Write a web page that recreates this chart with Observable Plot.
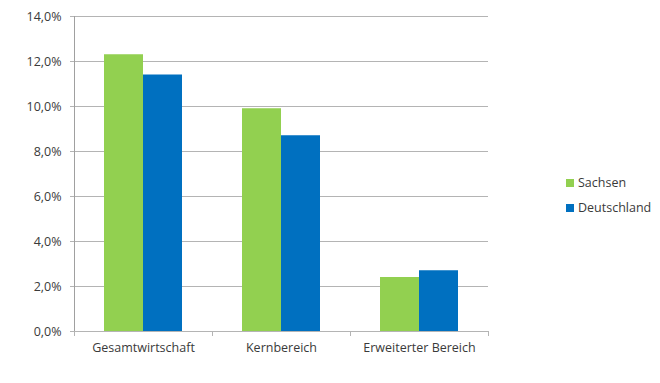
<!DOCTYPE html>
<html>
<head>
<meta charset="utf-8">
<script src="https://cdn.jsdelivr.net/npm/d3@7"></script>
<script src="https://cdn.jsdelivr.net/npm/@observablehq/plot@0.6"></script>
<style>
  html, body { margin: 0; padding: 0; background: #fff; }
  #wrap { position: relative; width: 660px; height: 383px; font-family: "Open Sans", sans-serif; }
  #legend { position: absolute; left: 566px; top: 170px; font-size: 12.5px; color: #3a3a3a; }
  #legend .item { display: flex; align-items: center; height: 25px; }
  #legend .sw { width: 8px; height: 8px; margin-right: 4px; }
</style>
</head>
<body>
<div id="wrap"><div id="legend"></div></div>
<script>
const categories = ["Gesamtwirtschaft", "Kernbereich", "Erweiterter Bereich"];
const series = ["Sachsen", "Deutschland"];
const sachsen = [12.3, 9.9, 2.4];
const deutschland = [11.4, 8.7, 2.7];
const yTicks = [0, 2, 4, 6, 8, 10, 12, 14];
const colors = ["#92D050", "#0070C0"];

const data = categories.flatMap((c, i) => [
  {cat: c, series: series[0], value: sachsen[i]},
  {cat: c, series: series[1], value: deutschland[i]}
]);
const fmt = v => v.toFixed(1).replace(".", ",") + "%";
const gridColor = "#b4b4b4";
const textColor = "#3a3a3a";

const plot = Plot.plot({
  width: 660,
  height: 383,
  marginTop: 16,
  marginBottom: 52,
  marginLeft: 74,
  marginRight: 172,
  style: {fontFamily: "Open Sans", fontSize: "12.5px", color: textColor, background: "#fff"},
  fx: {domain: categories, padding: 0, label: null, axis: null},
  x: {domain: series, paddingInner: 0, paddingOuter: 0.747, axis: null},
  y: {domain: [0, 14], axis: null},
  color: {domain: series, range: colors},
  marks: [
    Plot.ruleY(yTicks, {stroke: gridColor, strokeWidth: 1}),
    Plot.frame({anchor: "left", fx: [categories[0]], stroke: "#a0a0a0"}),
    Plot.barY(data, {fx: "cat", x: "series", y: "value", fill: "series"}),
    Plot.axisY(yTicks, {anchor: "left", tickSize: 4, tickPadding: 9, tickFormat: fmt, stroke: gridColor, fill: textColor, label: null, fontSize: 12.5}),
    Plot.axisFx({anchor: "bottom", tickSize: 0, tickPadding: 12, label: null, fill: textColor, fontSize: 12.5}),
    Plot.axisFx({anchor: "bottom", tickSize: 5, tickFormat: () => "", dx: -69, stroke: gridColor, label: null}),
    Plot.axisFx({anchor: "bottom", ticks: [categories[2]], tickSize: 5, tickFormat: () => "", dx: 69, stroke: gridColor, label: null})
  ]
});
document.getElementById("wrap").prepend(plot);

const legend = document.getElementById("legend");
series.forEach((s, i) => {
  const item = document.createElement("div");
  item.className = "item";
  item.innerHTML = `<span class="sw" style="background:${colors[i]}"></span><span>${s}</span>`;
  legend.appendChild(item);
});
</script>
</body>
</html>
